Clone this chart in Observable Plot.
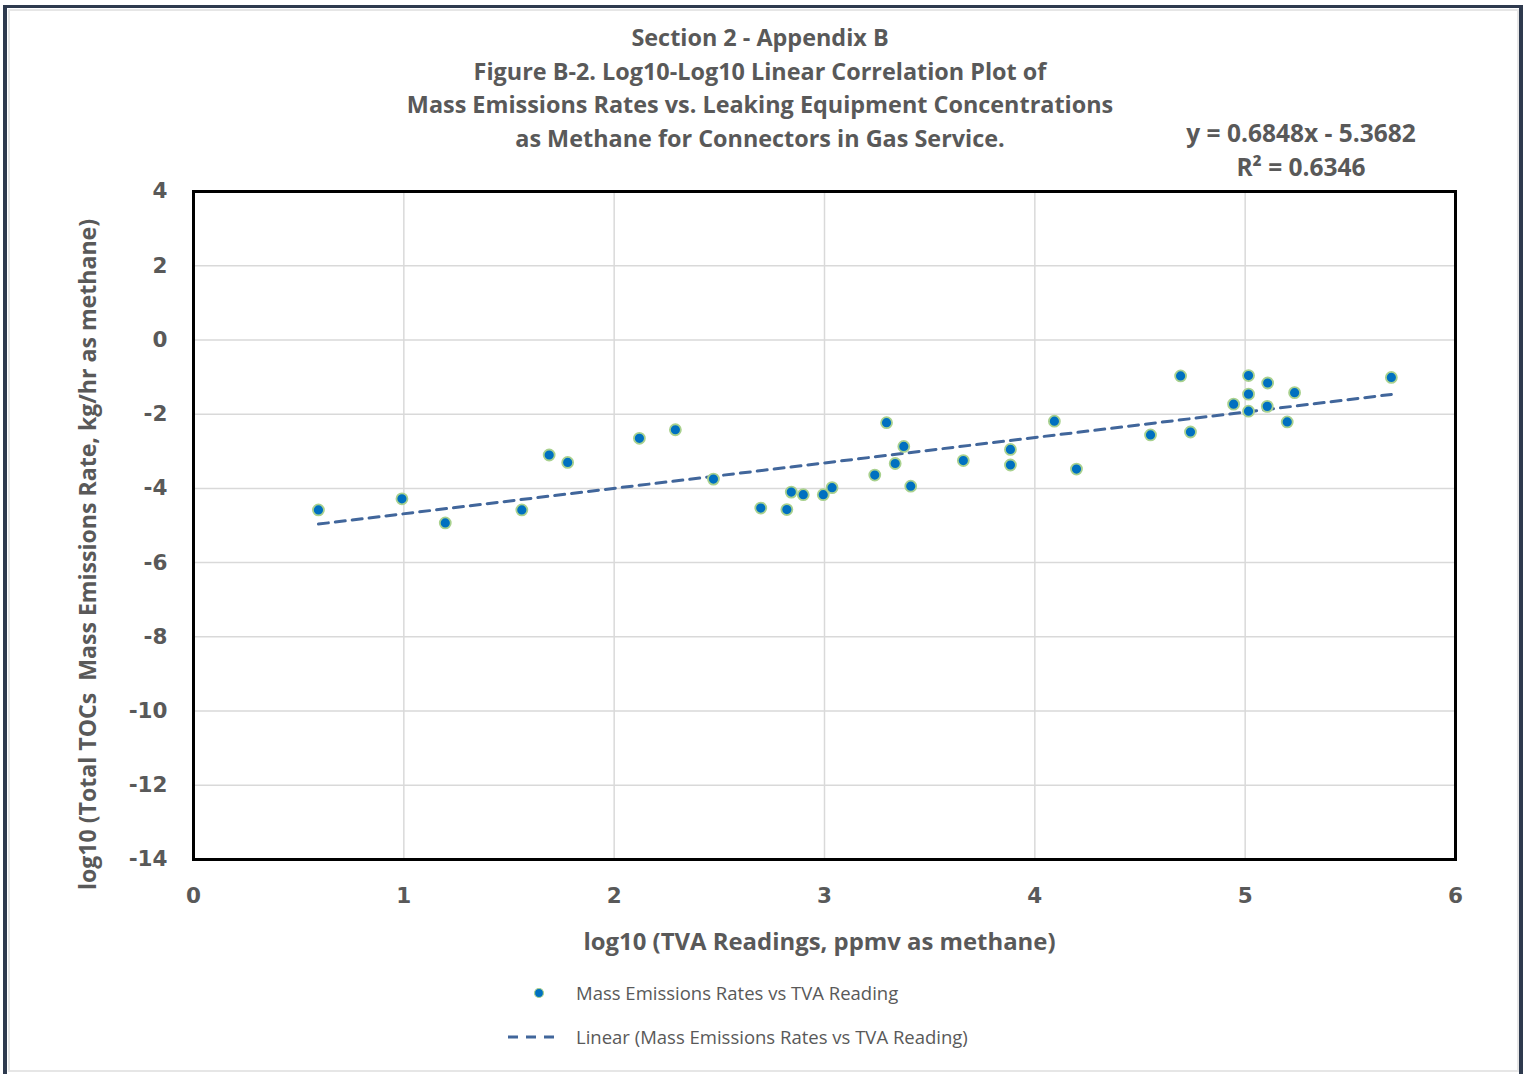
<!DOCTYPE html>
<html>
<head>
<meta charset="utf-8">
<script src="https://cdn.jsdelivr.net/npm/d3@7"></script>
<script src="https://cdn.jsdelivr.net/npm/@observablehq/plot@0.6"></script>
<style>
  html, body { margin: 0; padding: 0; background: #fff; }
  #wrap { position: relative; width: 1528px; height: 1074px; overflow: hidden; background: #fff; }
  #outer { position: absolute; left: 3px; top: 5px; width: 1520px; height: 1080px;
           border-left: 4px solid #2e3a4e; border-top: 3px solid #2e3a4e; border-right: 4px solid #2e3a4e; box-sizing: border-box; }
  #inner { position: absolute; left: 8px; top: 9px; width: 1511px; height: 1063px;
           border: 2px solid #e6e6e6; box-sizing: border-box; }
  .t { position: absolute; color: #595959; font-family: "Open Sans", sans-serif; font-weight: 700; white-space: nowrap; transform: translate(-50%, -50%); }
  .title { font-size: 23.4px; }
  .eq { font-size: 24.5px; }
  .leg { position: absolute; color: #595959; font-family: "Open Sans", sans-serif; font-size: 18.5px; white-space: nowrap; transform: translateY(-50%); }
  #plot { position: absolute; left: 0; top: 0; }
</style>
</head>
<body>
<div id="wrap">
  <div id="outer"></div>
  <div id="inner"></div>
  <div id="plot"></div>
</div>
<script>
// ---- data ----
const titleLines = [
  "Section 2 - Appendix B",
  "Figure B-2. Log10-Log10 Linear Correlation Plot of",
  "Mass Emissions Rates vs. Leaking Equipment Concentrations",
  "as Methane for Connectors in Gas Service."
];
const eqLines = ["y = 0.6848x - 5.3682", "R² = 0.6346"];
const slope = 0.6848;
const intercept = -5.3682;
const xLabel = "log10 (TVA Readings, ppmv as methane)";
const yLabel = "log10 (Total TOCs  Mass Emissions Rate, kg/hr as methane)";
const seriesName = "Mass Emissions Rates vs TVA Reading";
const trendName = "Linear (Mass Emissions Rates vs TVA Reading)";
const xTicks = [0, 1, 2, 3, 4, 5, 6];
const yTicks = [4, 2, 0, -2, -4, -6, -8, -10, -12, -14];

const tvaLog = [0.594, 0.991, 1.197, 1.561, 1.691, 1.779, 2.120, 2.291, 2.472,
  2.697, 2.821, 2.842, 2.899, 2.994, 3.036, 3.239, 3.295, 3.336, 3.377, 3.410,
  3.660, 3.884, 3.884, 4.093, 4.198, 4.550, 4.693, 4.740, 4.945, 5.016, 5.016,
  5.016, 5.107, 5.105, 5.200, 5.235, 5.695];
const emisLog = [-4.58, -4.28, -4.93, -4.58, -3.10, -3.30, -2.65, -2.42, -3.75,
  -4.53, -4.57, -4.10, -4.17, -4.17, -3.98, -3.64, -2.23, -3.33, -2.87, -3.94,
  -3.25, -2.95, -3.37, -2.19, -3.48, -2.56, -0.97, -2.48, -1.73, -0.96, -1.46,
  -1.92, -1.16, -1.79, -2.21, -1.42, -1.01];

const pts = tvaLog.map((x, i) => ({x, y: emisLog[i]}));
const xr = d3.extent(tvaLog);
const trend = xr.map(x => ({x, y: slope * x + intercept}));

const gray = "#595959";
const fmt = d => String(d);
const plot = Plot.plot({
  width: 1528,
  height: 1074,
  marginLeft: 193,
  marginRight: 73,
  marginTop: 191,
  marginBottom: 215,
  x: {domain: [0, 6]},
  y: {domain: [-14, 4]},
  style: {background: "transparent", color: gray},
  marks: [
    Plot.gridX([1, 2, 3, 4, 5], {stroke: "#d9d9d9", strokeOpacity: 1, strokeWidth: 1.5}),
    Plot.gridY([2, 0, -2, -4, -6, -8, -10, -12], {stroke: "#d9d9d9", strokeOpacity: 1, strokeWidth: 1.5}),
    Plot.line(trend, {x: "x", y: "y", stroke: "#41669b", strokeWidth: 3, strokeDasharray: "10,7"}),
    Plot.dot(pts, {x: "x", y: "y", r: 5.5, fill: "#0070C0", stroke: "#A9D18E", strokeWidth: 1.8}),
    Plot.frame({stroke: "#000", strokeWidth: 3}),
    Plot.axisX(xTicks, {tickSize: 0, tickPadding: 28, fontSize: 21.5, fontWeight: "bold", fontFamily: "DejaVu Sans", fill: gray, label: null, tickFormat: fmt}),
    Plot.axisY(yTicks, {tickSize: 0, tickPadding: 26, fontSize: 21.5, fontWeight: "bold", fontFamily: "DejaVu Sans", fill: gray, label: null, tickFormat: fmt}),
    Plot.text([xLabel], {frameAnchor: "bottom", dx: -5, dy: 90, fontSize: 23.9, fontWeight: "bold", fontFamily: "Open Sans", fill: gray}),
    Plot.text([yLabel], {frameAnchor: "left", textAnchor: "middle", dx: -105, dy: 29, rotate: -90, fontSize: 23.1, fontWeight: "bold", fontFamily: "Open Sans", fill: gray})
  ]
});
document.getElementById("plot").appendChild(plot);

const wrap = document.getElementById("wrap");
const titleY = [37, 71, 104, 138];
titleLines.forEach((s, i) => {
  const d = document.createElement("div");
  d.className = "t title";
  d.style.left = "760px";
  d.style.top = titleY[i] + "px";
  d.textContent = s;
  wrap.appendChild(d);
});
const eqY = [132, 166];
eqLines.forEach((s, i) => {
  const d = document.createElement("div");
  d.className = "t eq";
  d.style.left = "1301px";
  d.style.top = eqY[i] + "px";
  d.textContent = s;
  wrap.appendChild(d);
});

// legend
function legendItem(y, svgInner, text) {
  const s = document.createElementNS("http://www.w3.org/2000/svg", "svg");
  s.setAttribute("width", 60); s.setAttribute("height", 20);
  s.style.position = "absolute"; s.style.left = "504px"; s.style.top = (y - 10) + "px";
  s.innerHTML = svgInner;
  wrap.appendChild(s);
  const d = document.createElement("div");
  d.className = "leg";
  d.style.left = "576px"; d.style.top = (y - 1) + "px";
  d.textContent = text;
  wrap.appendChild(d);
}
legendItem(993, '<circle cx="35" cy="10" r="4.5" fill="#0070C0" stroke="#A9D18E" stroke-width="1.2"/>', seriesName);
legendItem(1037, '<line x1="4" x2="56" y1="10" y2="10" stroke="#41669b" stroke-width="3" stroke-dasharray="10,8"/>', trendName);
</script>
</body>
</html>
